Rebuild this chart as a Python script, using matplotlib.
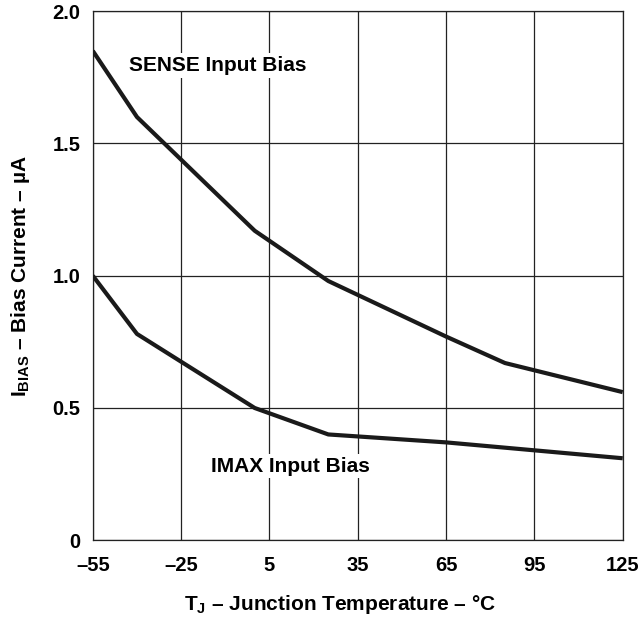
import matplotlib
matplotlib.use("Agg")
import matplotlib.pyplot as plt

plt.rcParams["font.family"] = ["Liberation Sans", "DejaVu Sans"]
plt.rcParams["font.weight"] = "bold"
plt.rcParams["mathtext.fontset"] = "custom"
plt.rcParams["mathtext.rm"] = "Liberation Sans:bold"
plt.rcParams["mathtext.bf"] = "Liberation Sans:bold"
plt.rcParams["mathtext.it"] = "Liberation Sans:bold"

# junction temperature (deg C) and bias currents (uA)
sense_temp = [-55, -40, 0, 25, 65, 85, 125]
sense_bias = [1.85, 1.60, 1.17, 0.98, 0.77, 0.67, 0.56]

imax_temp = [-55, -40, 0, 25, 65, 95, 125]
imax_bias = [1.00, 0.78, 0.50, 0.40, 0.37, 0.34, 0.31]

x_ticks = [-55, -25, 5, 35, 65, 95, 125]
x_tick_labels = ["–55", "–25", "5", "35", "65", "95", "125"]
y_ticks = [0, 0.5, 1.0, 1.5, 2.0]
y_tick_labels = ["0", "0.5", "1.0", "1.5", "2.0"]

fig = plt.figure(figsize=(6.4, 6.21), dpi=100)
ax = fig.add_axes([0.145, 0.130, 0.828, 0.852])

ax.plot(sense_temp, sense_bias, color="#1a1a1a", linewidth=3.0, solid_capstyle="butt", zorder=3)
ax.plot(imax_temp, imax_bias, color="#1a1a1a", linewidth=3.0, solid_capstyle="butt", zorder=3)

ax.set_xlim(-55, 125)
ax.set_ylim(0, 2.0)
ax.set_xticks(x_ticks)
ax.set_xticklabels(x_tick_labels)
ax.set_yticks(y_ticks)
ax.set_yticklabels(y_tick_labels)
ax.tick_params(length=0, labelsize=14.5)
ax.tick_params(axis="x", pad=11)
ax.tick_params(axis="y", pad=9)
for lbl in ax.get_xticklabels() + ax.get_yticklabels():
    lbl.set_fontweight("bold")

ax.grid(True, color="#222222", linewidth=0.9)
ax.set_axisbelow(True)
for sp in ax.spines.values():
    sp.set_color("#222222")
    sp.set_linewidth(0.9)

box = dict(facecolor="white", edgecolor="none", pad=2)
ax.text(-12.5, 1.795, "SENSE Input Bias", ha="center", va="center",
        fontsize=15, fontweight="bold", bbox=box, zorder=2)
ax.text(12, 0.28, "IMAX Input Bias", ha="center", va="center",
        fontsize=15, fontweight="bold", bbox=box, zorder=2)

ax.set_xlabel(r"T$_{\mathbf{J}}$ – Junction Temperature – °C", fontsize=15,
              fontweight="bold")
ax.set_ylabel(r"I$_{\mathbf{BIAS}}$ – Bias Current – µA", fontsize=15,
              fontweight="bold")
ax.xaxis.set_label_coords(0.466, -0.100)
ax.yaxis.set_label_coords(-0.114, 0.5)

fig.savefig("out.png", dpi=100)
